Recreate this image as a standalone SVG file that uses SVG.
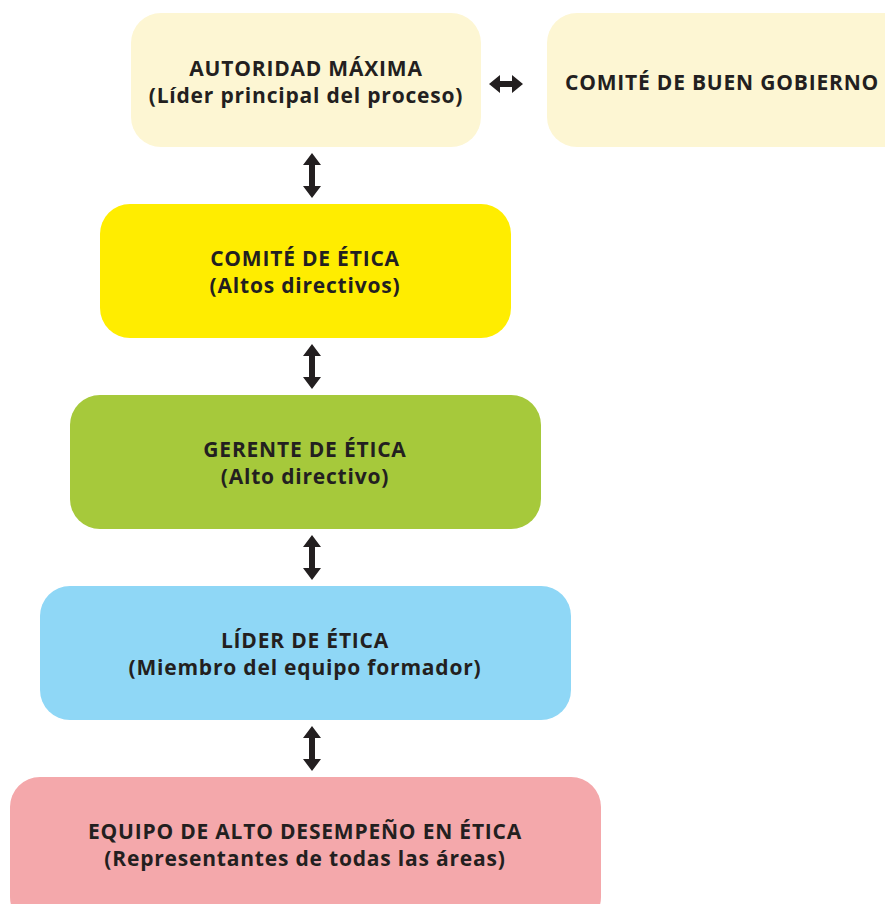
<svg xmlns="http://www.w3.org/2000/svg" width="885" height="904" viewBox="0 0 885 904">
<style>
.t{font-family:"Open Sans","Noto Sans","Liberation Sans",sans-serif;font-weight:700;font-size:21px;letter-spacing:0.8px;fill:#231f20;text-anchor:middle}
.a{fill:#231f20}
</style>
<defs>
<path id="va" d="M0,0 L9,12 L3,12 L3,33 L9,33 L0,45 L-9,33 L-3,33 L-3,12 L-9,12 Z"/>
</defs>
<rect width="885" height="904" fill="#fff"/>
<g id="autoridad">
<rect x="131" y="13" width="350" height="134" rx="30" fill="#fdf6d3"/>
<text class="t" x="306" y="76">AUTORIDAD MÁXIMA</text>
<text class="t" x="306" y="103">(Líder principal del proceso)</text>
</g>
<g id="buen-gobierno">
<rect x="547" y="13" width="370" height="134" rx="30" fill="#fdf6d3"/>
<text class="t" x="722" y="90">COMITÉ DE BUEN GOBIERNO</text>
</g>
<g id="comite-etica">
<rect x="100" y="204" width="411" height="134" rx="30" fill="#ffed00"/>
<text class="t" x="305" y="266">COMITÉ DE ÉTICA</text>
<text class="t" x="305" y="293">(Altos directivos)</text>
</g>
<g id="gerente">
<rect x="70" y="395" width="471" height="134" rx="30" fill="#a6c93b"/>
<text class="t" x="305" y="457">GERENTE DE ÉTICA</text>
<text class="t" x="305" y="484">(Alto directivo)</text>
</g>
<g id="lider">
<rect x="40" y="586" width="531" height="134" rx="30" fill="#8fd7f6"/>
<text class="t" x="305" y="648">LÍDER DE ÉTICA</text>
<text class="t" x="305" y="675">(Miembro del equipo formador)</text>
</g>
<g id="equipo">
<rect x="10" y="777" width="591" height="150" rx="30" fill="#f4a8ab"/>
<text class="t" x="305" y="839">EQUIPO DE ALTO DESEMPEÑO EN ÉTICA</text>
<text class="t" x="305" y="866">(Representantes de todas las áreas)</text>
</g>
<g id="connectors" class="a">
<use href="#va" x="312" y="153"/>
<use href="#va" x="312" y="344"/>
<use href="#va" x="312" y="535"/>
<use href="#va" x="312" y="726"/>
<path d="M489,84 L500,75 L500,81 L512,81 L512,75 L523,84 L512,93 L512,87 L500,87 L500,93 Z"/>
</g>
</svg>
